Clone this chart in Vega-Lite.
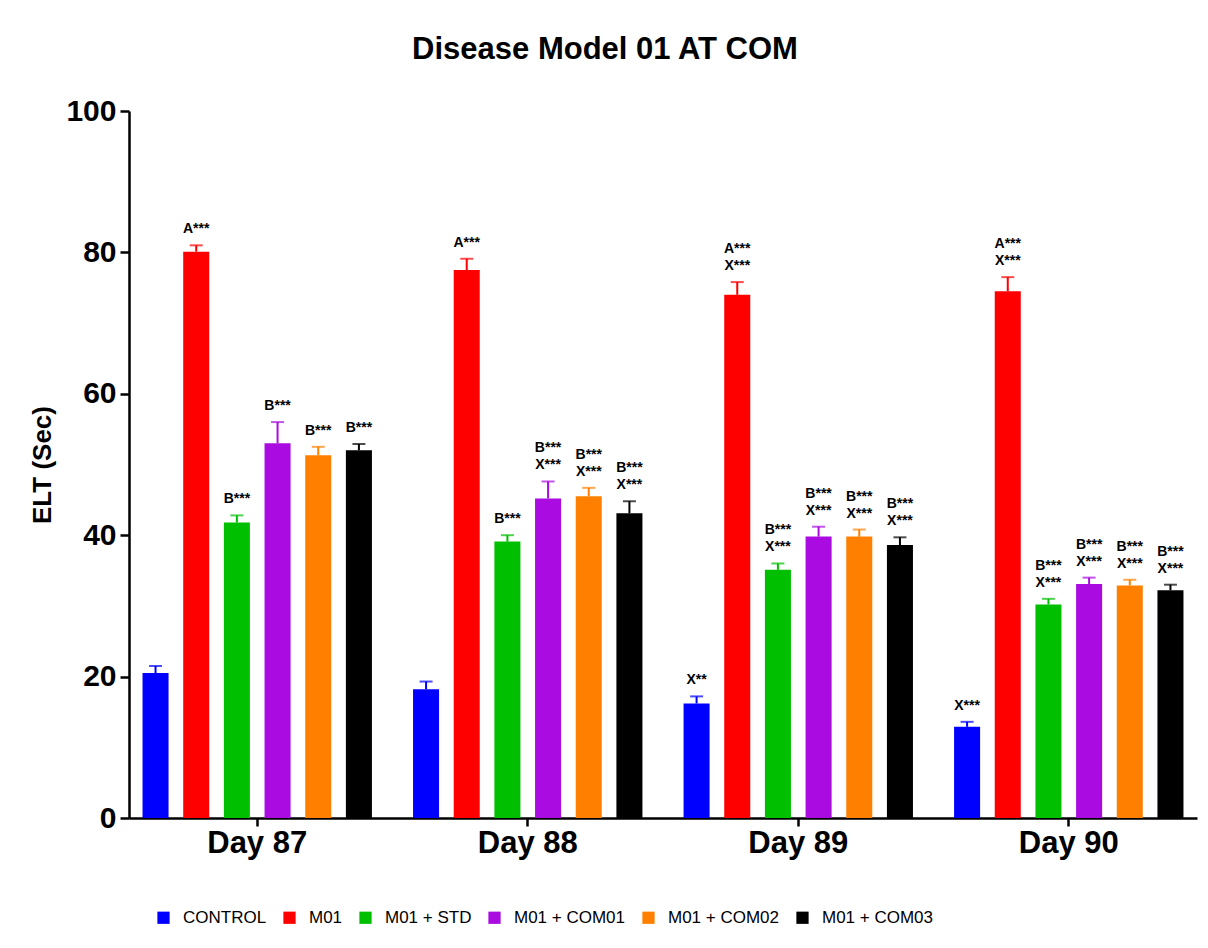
{
  "$schema": "https://vega.github.io/schema/vega-lite/v6.json",
  "width": 1068,
  "height": 707,
  "autosize": {"type": "none"},
  "padding": {"left": 129, "top": 111, "right": 11, "bottom": 130},
  "background": "white",
  "title": {
    "text": "Disease Model 01 AT COM",
    "font": "Liberation Sans, Arial",
    "fontSize": 31,
    "fontWeight": "bold",
    "color": "black",
    "anchor": "middle",
    "dx": -58,
    "offset": 30
  },
  "data": {
    "values": [
      {"day": "Day 87", "group": "CONTROL", "value": 20.5, "err": 21.5, "top": "", "bot": ""},
      {"day": "Day 87", "group": "M01", "value": 80.1, "err": 81.0, "top": "", "bot": "A***"},
      {"day": "Day 87", "group": "M01 + STD", "value": 41.8, "err": 42.8, "top": "", "bot": "B***"},
      {"day": "Day 87", "group": "M01 + COM01", "value": 53.0, "err": 56.0, "top": "", "bot": "B***"},
      {"day": "Day 87", "group": "M01 + COM02", "value": 51.3, "err": 52.5, "top": "", "bot": "B***"},
      {"day": "Day 87", "group": "M01 + COM03", "value": 52.0, "err": 52.9, "top": "", "bot": "B***"},
      {"day": "Day 88", "group": "CONTROL", "value": 18.2, "err": 19.3, "top": "", "bot": ""},
      {"day": "Day 88", "group": "M01", "value": 77.5, "err": 79.1, "top": "", "bot": "A***"},
      {"day": "Day 88", "group": "M01 + STD", "value": 39.1, "err": 40.0, "top": "", "bot": "B***"},
      {"day": "Day 88", "group": "M01 + COM01", "value": 45.2, "err": 47.6, "top": "B***", "bot": "X***"},
      {"day": "Day 88", "group": "M01 + COM02", "value": 45.5, "err": 46.7, "top": "B***", "bot": "X***"},
      {"day": "Day 88", "group": "M01 + COM03", "value": 43.1, "err": 44.8, "top": "B***", "bot": "X***"},
      {"day": "Day 89", "group": "CONTROL", "value": 16.2, "err": 17.2, "top": "", "bot": "X**"},
      {"day": "Day 89", "group": "M01", "value": 74.0, "err": 75.8, "top": "A***", "bot": "X***"},
      {"day": "Day 89", "group": "M01 + STD", "value": 35.1, "err": 36.0, "top": "B***", "bot": "X***"},
      {"day": "Day 89", "group": "M01 + COM01", "value": 39.8, "err": 41.2, "top": "B***", "bot": "X***"},
      {"day": "Day 89", "group": "M01 + COM02", "value": 39.8, "err": 40.8, "top": "B***", "bot": "X***"},
      {"day": "Day 89", "group": "M01 + COM03", "value": 38.6, "err": 39.7, "top": "B***", "bot": "X***"},
      {"day": "Day 90", "group": "CONTROL", "value": 12.9, "err": 13.6, "top": "", "bot": "X***"},
      {"day": "Day 90", "group": "M01", "value": 74.5, "err": 76.5, "top": "A***", "bot": "X***"},
      {"day": "Day 90", "group": "M01 + STD", "value": 30.2, "err": 31.0, "top": "B***", "bot": "X***"},
      {"day": "Day 90", "group": "M01 + COM01", "value": 33.1, "err": 34.0, "top": "B***", "bot": "X***"},
      {"day": "Day 90", "group": "M01 + COM02", "value": 32.9, "err": 33.7, "top": "B***", "bot": "X***"},
      {"day": "Day 90", "group": "M01 + COM03", "value": 32.2, "err": 33.0, "top": "B***", "bot": "X***"}
    ]
  },
  "encoding": {
    "x": {
      "field": "day",
      "type": "nominal",
      "title": null,
      "scale": {"paddingInner": 0.152, "paddingOuter": 0.05},
      "axis": {
        "labelAngle": 0,
        "labelFont": "Liberation Sans, Arial",
        "labelFontSize": 31,
        "labelFontWeight": "bold",
        "labelColor": "black",
        "labelPadding": 2,
        "domainColor": "black",
        "domainWidth": 2.5,
        "tickColor": "black",
        "tickWidth": 2.5,
        "tickSize": 8
      }
    },
    "xOffset": {
      "field": "group",
      "type": "nominal",
      "sort": ["CONTROL", "M01", "M01 + STD", "M01 + COM01", "M01 + COM02", "M01 + COM03"],
      "scale": {"paddingInner": 0.36, "paddingOuter": 0}
    },
    "color": {
      "field": "group",
      "type": "nominal",
      "sort": ["CONTROL", "M01", "M01 + STD", "M01 + COM01", "M01 + COM02", "M01 + COM03"],
      "scale": {
        "domain": ["CONTROL", "M01", "M01 + STD", "M01 + COM01", "M01 + COM02", "M01 + COM03"],
        "range": ["#0000FF", "#FF0000", "#00BF00", "#A90BE0", "#FF8000", "#000000"]
      },
      "legend": {
        "title": null,
        "orient": "none",
        "direction": "horizontal",
        "legendX": 26,
        "legendY": 798,
        "symbolType": "square",
        "symbolSize": 150,
        "symbolStrokeWidth": 0,
        "symbolOpacity": 1,
        "labelFont": "Liberation Sans, Arial",
        "labelFontSize": 17,
        "labelColor": "black",
        "labelOffset": 11,
        "columnPadding": 14,
        "padding": 0
      }
    }
  },
  "layer": [
    {
      "mark": {"type": "bar", "opacity": 1},
      "encoding": {
        "y": {
          "field": "value",
          "type": "quantitative",
          "title": "ELT (Sec)",
          "scale": {"domain": [0, 100], "nice": false},
          "axis": {
            "values": [0, 20, 40, 60, 80, 100],
            "grid": false,
            "labelFont": "Liberation Sans, Arial",
            "labelFontSize": 30,
            "labelFontWeight": "bold",
            "labelColor": "black",
            "labelPadding": 4,
            "titleFont": "Liberation Sans, Arial",
            "titleFontSize": 26,
            "titleFontWeight": "bold",
            "titleColor": "black",
            "titlePadding": 10,
            "domainColor": "black",
            "domainWidth": 2.5,
            "tickColor": "black",
            "tickWidth": 2.5,
            "tickSize": 9
          }
        }
      }
    },
    {
      "mark": {"type": "rule", "strokeWidth": 2},
      "encoding": {
        "y": {"field": "value", "type": "quantitative"},
        "y2": {"field": "err"}
      }
    },
    {
      "mark": {"type": "tick", "orient": "horizontal", "size": 13, "thickness": 2},
      "encoding": {
        "y": {"field": "err", "type": "quantitative"}
      }
    },
    {
      "mark": {
        "type": "text",
        "baseline": "bottom",
        "align": "center",
        "dy": -9,
        "font": "Liberation Sans, Arial",
        "fontSize": 14,
        "fontWeight": "bold",
        "color": "black"
      },
      "encoding": {
        "y": {"field": "err", "type": "quantitative"},
        "text": {"field": "bot"},
        "color": {"value": "black"}
      }
    },
    {
      "mark": {
        "type": "text",
        "baseline": "bottom",
        "align": "center",
        "dy": -26,
        "font": "Liberation Sans, Arial",
        "fontSize": 14,
        "fontWeight": "bold",
        "color": "black"
      },
      "encoding": {
        "y": {"field": "err", "type": "quantitative"},
        "text": {"field": "top"},
        "color": {"value": "black"}
      }
    }
  ],
  "config": {
    "view": {"stroke": null}
  }
}
